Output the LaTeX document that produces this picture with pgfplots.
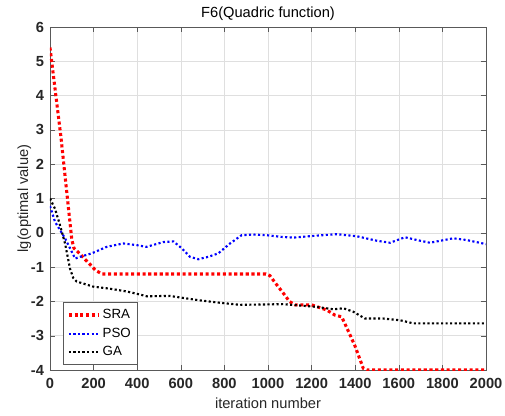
\documentclass[border=0pt]{standalone}
\usepackage{fontspec}
\setmainfont{Liberation Sans}
\usepackage{pgfplots}
\pgfplotsset{compat=1.18}

\begin{document}
\begin{tikzpicture}
\useasboundingbox (-37.5pt,-33.75pt) rectangle (341.25pt,277.5pt);
\begin{axis}[
    scale only axis,
    width=327pt, height=257.25pt,
    xmin=0, xmax=2000, ymin=-4, ymax=6,
    xtick={0,200,...,2000}, ytick={-4,-3,...,6},
    grid=major,
    grid style={gray!25, line width=0.4pt},
    axis line style={gray!70!black},
    tick style={gray!70!black},
    tick align=inside,
    major tick length=4pt,
    ticklabel style={font=\bfseries\fontsize{11}{12}\selectfont, text=black!85},
    xticklabel style={yshift=-3pt},
    yticklabel style={xshift=-1pt},
    /pgf/number format/assume math mode=true,
    /pgf/number format/1000 sep={},
    title={F6(Quadric function)},
    title style={font=\fontsize{11}{12}\selectfont, yshift=-5pt},
    xlabel={iteration number},
    ylabel={lg(optimal value)},
    label style={font=\fontsize{11}{12}\selectfont, text=black!85},
    xlabel style={yshift=0pt},
    ylabel style={yshift=-7pt},
    legend style={at={(0.03,0.015)}, anchor=south west, font=\fontsize{10}{11}\selectfont,
        draw=gray!70!black, row sep=1.5pt, inner sep=3pt},
    legend cell align=left,
    legend image post style={xscale=1.3},
]
% SRA
\addplot[red, line width=2.3pt, dash pattern=on 2.3pt off 2pt] coordinates {
(0,5.4) (50,2.8) (100,-0.2) (110,-0.45) (135,-0.6) (160,-0.77) (185,-0.93)
(210,-1.1) (240,-1.2) (990,-1.2) (1009,-1.25) (1032,-1.45) (1075,-1.8)
(1098,-2.0) (1124,-2.1) (1200,-2.1) (1269,-2.25) (1307,-2.4) (1338,-2.45)
(1368,-2.86) (1399,-3.3) (1437,-3.95) (1453,-4) (2000,-4)
};
% PSO
\addplot[blue, line width=1.6pt, dash pattern=on 1.6pt off 1.8pt] coordinates {
(0,0.78) (23,0.32) (46,0.08) (69,-0.16) (92,-0.45) (115,-0.75) (138,-0.7)
(191,-0.6) (260,-0.41) (336,-0.31) (398,-0.36) (443,-0.41) (520,-0.27)
(566,-0.25) (604,-0.45) (642,-0.7) (680,-0.77) (726,-0.7) (772,-0.6)
(826,-0.31) (879,-0.07) (933,-0.05) (994,-0.07) (1063,-0.12) (1116,-0.14)
(1208,-0.09) (1315,-0.04) (1407,-0.1) (1498,-0.23) (1560,-0.29) (1628,-0.13)
(1697,-0.23) (1743,-0.29) (1850,-0.16) (1911,-0.21) (2000,-0.33)
};
% GA
\addplot[black, line width=1.6pt, dash pattern=on 1.6pt off 1.8pt] coordinates {
(0,1.0) (23,0.7) (46,0.22) (69,-0.31) (92,-1.05) (107,-1.32) (122,-1.42)
(199,-1.57) (275,-1.63) (352,-1.71) (413,-1.8) (443,-1.85) (550,-1.84)
(612,-1.9) (688,-1.97) (780,-2.04) (872,-2.1) (1070,-2.08) (1223,-2.16)
(1300,-2.23) (1346,-2.2) (1391,-2.3) (1445,-2.5) (1529,-2.5) (1606,-2.55)
(1667,-2.64) (2000,-2.64)
};
\legend{SRA, PSO, GA}
\end{axis}
\end{tikzpicture}
\end{document}
